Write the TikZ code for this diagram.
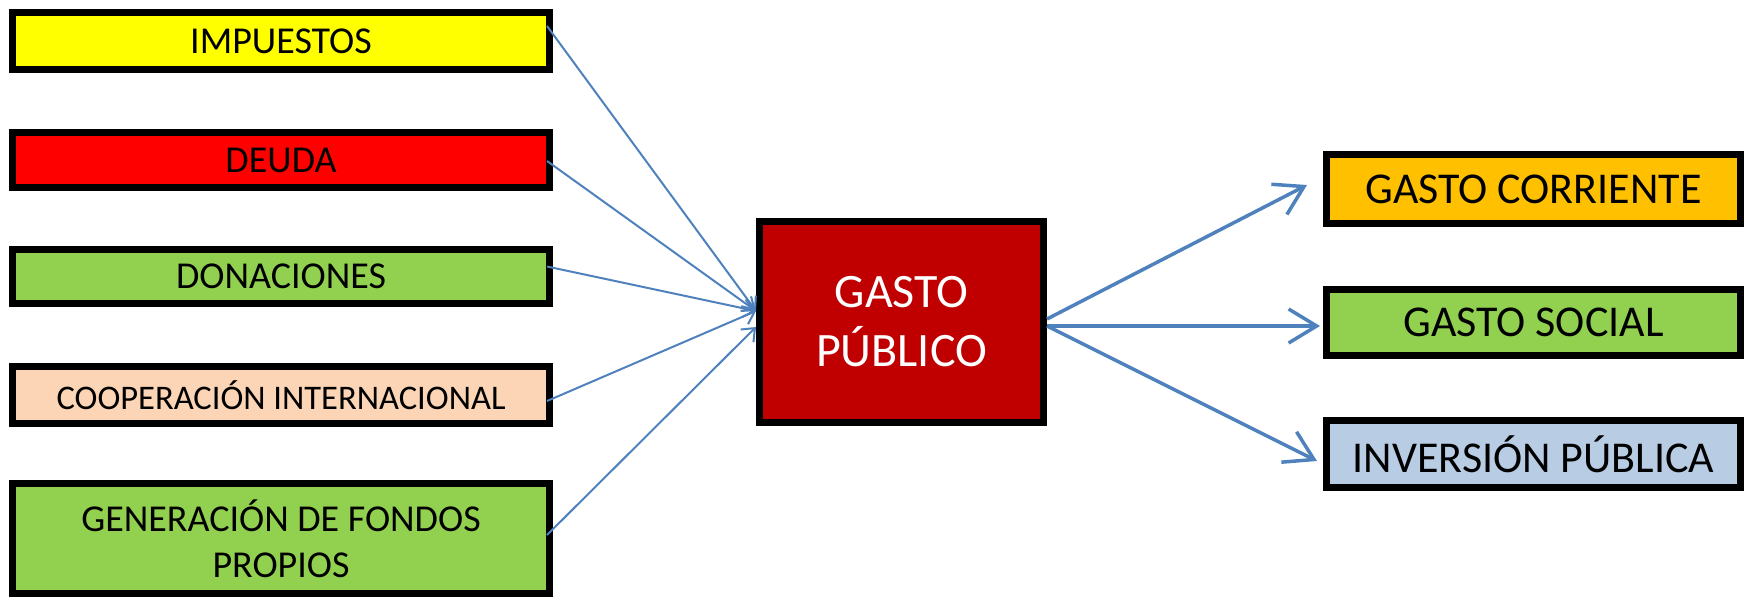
\documentclass[tikz,border=0pt]{standalone}
\usepackage{fontspec}
\setmainfont{Carlito}
\usetikzlibrary{arrows.meta}
\definecolor{boxyellow}{HTML}{FFFF00}
\definecolor{boxred}{HTML}{FF0000}
\definecolor{boxgreen}{HTML}{92D050}
\definecolor{boxpeach}{HTML}{FBD5B5}
\definecolor{boxdark}{HTML}{C00000}
\definecolor{boxorange}{HTML}{FFC000}
\definecolor{boxblue}{HTML}{B8CCE4}
\definecolor{arrowblue}{HTML}{4F81BD}

\begin{document}
\begin{tikzpicture}[x=1pt,y=-1pt,
	box/.style={draw=black,line width=7pt,inner sep=0,align=center,font=\fontsize{38}{46}\selectfont},
	leftbox/.style={box,minimum width=537pt},
	rightbox/.style={box,minimum width=414pt,font=\fontsize{44}{54}\selectfont},
	thinarrow/.style={draw=arrowblue,line width=2pt,-{Straight Barb[length=11pt,width=18pt]}},
	thickarrow/.style={draw=arrowblue,line width=3.5pt,-{Straight Barb[length=28pt,width=34pt]}}]
	\useasboundingbox (0,0) rectangle (1744,598);
	% sources
	\node[leftbox,fill=boxyellow,minimum height=57pt] (imp) at (281,41) {IMPUESTOS};
	\node[leftbox,fill=boxred,minimum height=55pt] (deuda) at (281,160) {DEUDA};
	\node[leftbox,fill=boxgreen,minimum height=54pt] (don) at (281,276.5) {DONACIONES};
	\node[leftbox,fill=boxpeach,minimum height=57pt,font=\fontsize{34.5}{42}\selectfont] (coop) at (281,395) {COOPERACIÓN INTERNACIONAL};
	\node[leftbox,fill=boxgreen,minimum height=110pt] (gen) at (281,538.5) {GENERACIÓN DE FONDOS\\PROPIOS};
	% centre
	\node[box,fill=boxdark,text=white,minimum width=284pt,minimum height=201pt,font=\fontsize{48}{59}\selectfont] (gp) at (901.5,322) {GASTO\\PÚBLICO};
	% uses
	\node[rightbox,fill=boxorange,minimum height=69pt] (gc) at (1533.5,189) {GASTO CORRIENTE};
	\node[rightbox,fill=boxgreen,minimum height=66pt] (gs) at (1533.5,322.5) {GASTO SOCIAL};
	\node[rightbox,fill=boxblue,minimum height=67pt] (ip) at (1533.5,454) {INVERSIÓN PÚBLICA};
	% arrows in
	\draw[thinarrow] ([xshift=-6pt,yshift=15pt]imp.east) -- ([yshift=11pt]gp.west);
	\draw[thinarrow] ([xshift=-6pt,yshift=-1pt]deuda.east) -- ([yshift=11pt]gp.west);
	\draw[thinarrow] ([xshift=-6pt,yshift=10pt]don.east) -- ([yshift=11pt]gp.west);
	\draw[thinarrow] ([xshift=-6pt,yshift=-6pt]coop.east) -- ([yshift=11pt]gp.west);
	\draw[thinarrow] ([xshift=-6pt,yshift=3.5pt]gen.east) -- ([yshift=-5pt]gp.west);
	% arrows out
	\draw[thickarrow] ([yshift=3pt]gp.east) -- ([xshift=-16pt,yshift=4pt]gc.west);
	\draw[thickarrow] ([yshift=-4pt]gp.east) -- ([xshift=-3pt,yshift=-3.5pt]gs.west);
	\draw[thickarrow] ([yshift=-4pt]gp.east) -- ([xshift=-6pt,yshift=-7pt]ip.west);
\end{tikzpicture}
\end{document}
